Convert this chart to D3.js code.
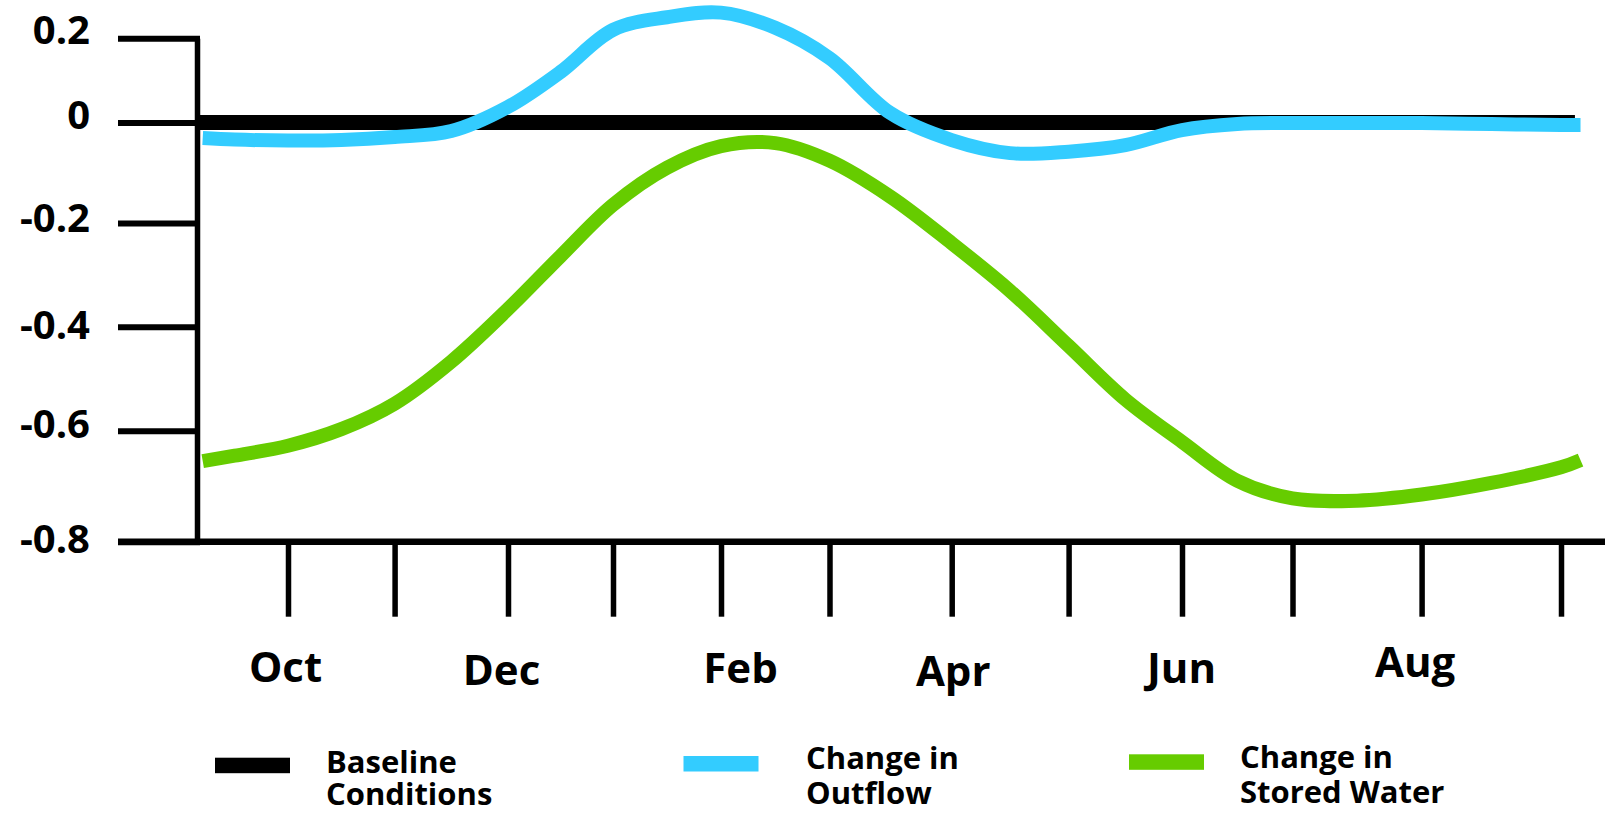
<!DOCTYPE html>
<html>
<head>
<meta charset="utf-8">
<script src="https://cdn.jsdelivr.net/npm/d3@7"></script>
<style>
  html, body { margin: 0; padding: 0; background: #fff; }
  svg { display: block; }
  text { font-family: "Open Sans", "DejaVu Sans", sans-serif; font-weight: 700; fill: #000; }
</style>
</head>
<body>
<svg id="chart" width="1605" height="813"></svg>
<script>
// ---- data ----
const months = ["Oct","Nov","Dec","Jan","Feb","Mar","Apr","May","Jun","Jul","Aug","Sep"];
const monthLabelShown = ["Oct","Dec","Feb","Apr","Jun","Aug"];
const yTickValues = [0.2, 0, -0.2, -0.4, -0.6, -0.8];
const yTickLabels = ["0.2", "0", "-0.2", "-0.4", "-0.6", "-0.8"];

// sample positions in month units (0 = Oct)
const monthIdx = [-0.8,-0.5,0,0.5,1,1.5,2,2.5,3,3.5,4,4.5,5,5.5,6,6.5,7,7.5,8,8.5,9,9.5,10,10.5,11,11.14];
const outflow  = [-0.031,-0.034,-0.036,-0.035,-0.029,-0.017,0.037,0.12,0.22,0.25,0.261,0.225,0.153,0.022,-0.035,-0.061,-0.058,-0.045,-0.015,-0.003,-0.001,-0.001,-0.001,-0.003,-0.005,-0.005];
const stored   = [-0.655,-0.645,-0.627,-0.597,-0.548,-0.467,-0.366,-0.264,-0.164,-0.09,-0.047,-0.041,-0.076,-0.148,-0.239,-0.331,-0.437,-0.54,-0.62,-0.69,-0.722,-0.726,-0.715,-0.694,-0.666,-0.653];
const baselineIdx = [-0.85, 11.1];
const baseline = [0, 0];

const legendNames = [["Baseline","Conditions"],["Change in","Outflow"],["Change in","Stored Water"]];
const seriesColors = ["#000000", "#33CCFF", "#66CC00"];

// ---- layout (hand-drawn offsets, not data) ----
const yLabelDy = [-3, -1.7, 0.3, 3.3, -1.7, 2.3];
const xLabelShift = {Oct: [-3, 1], Dec: [-7, 4], Feb: [19, 2], Apr: [1, 5], Jun: [-1, 2], Aug: [-7, -4]};

const svg = d3.select("#chart");
// hand-drawn axis: tick positions are irregular, so use polylinear scales
const x = d3.scaleLinear()
  .domain(d3.range(12))
  .range([288, 394.6, 508, 613, 721, 829.5, 951.7, 1068.6, 1182, 1292.5, 1421.6, 1561]);
const y = d3.scaleLinear()
  .domain([-0.8, -0.6, -0.4, -0.2, 0, 0.2])
  .range([541.7, 430.7, 326.7, 223, 122.5, 38.3]);

const axisX0 = 197;       // y-axis position
const axisY0 = y(-0.8);   // x-axis position

// x-axis line
svg.append("line")
  .attr("x1", 118).attr("x2", 1605)
  .attr("y1", axisY0).attr("y2", axisY0)
  .attr("stroke", "#000").attr("stroke-width", 6.5);

// y axis
const yAxis = d3.axisLeft(y)
  .tickValues(yTickValues)
  .tickFormat((d, i) => yTickLabels[i])
  .tickSize(79)
  .tickSizeOuter(0)
  .tickPadding(28);
const gy = svg.append("g").attr("transform", `translate(${axisX0},0)`).call(yAxis);
gy.select(".domain").attr("stroke", "#000").attr("stroke-width", 5.5);
gy.selectAll(".tick line").attr("stroke", "#000").attr("stroke-width", 6).attr("x2", -79).attr("x1", 3);
gy.selectAll(".tick text")
  .style("font-size", "40px")
  .style("font-family", '"Open Sans", sans-serif')
  .style("font-weight", 700)
  .attr("fill", "#000")
  .attr("dy", "0.2em")
  .attr("y", (d, i) => yLabelDy[i]);

// x axis ticks
const xAxis = d3.axisBottom(x)
  .tickValues(d3.range(12))
  .tickFormat(i => monthLabelShown.includes(months[i]) ? months[i] : "")
  .tickSize(75)
  .tickSizeOuter(0)
  .tickPadding(34);
const gx = svg.append("g").attr("transform", `translate(0,${axisY0})`).call(xAxis);
gx.select(".domain").remove();
gx.selectAll(".tick line").attr("stroke", "#000").attr("stroke-width", 5.5);
gx.selectAll(".tick text")
  .style("font-size", "42px")
  .style("font-family", '"Open Sans", sans-serif')
  .style("font-weight", 700)
  .attr("fill", "#000")
  .attr("x", i => (xLabelShift[months[i]] || [0, 0])[0])
  .attr("y", i => 109 + (xLabelShift[months[i]] || [0, 0])[1]);

// lines
const line = d3.line()
  .x(d => x(d[0]))
  .y(d => y(d[1]))
  .curve(d3.curveCatmullRom.alpha(0.5));
const lineStraight = d3.line().x(d => x(d[0])).y(d => y(d[1]));

svg.append("path")
  .datum(baselineIdx.map((m, i) => [m, baseline[i]]))
  .attr("d", lineStraight)
  .attr("fill", "none").attr("stroke", seriesColors[0]).attr("stroke-width", 15);

svg.append("path")
  .datum(monthIdx.map((m, i) => [m, stored[i]]))
  .attr("d", line)
  .attr("fill", "none").attr("stroke", seriesColors[2]).attr("stroke-width", 14)
  .attr("stroke-linecap", "butt").attr("stroke-linejoin", "round");

svg.append("path")
  .datum(monthIdx.map((m, i) => [m, outflow[i]]))
  .attr("d", line)
  .attr("fill", "none").attr("stroke", seriesColors[1]).attr("stroke-width", 14)
  .attr("stroke-linecap", "butt").attr("stroke-linejoin", "round");

// legend
const legendX = [215, 683.5, 1129];
const legendSwatchY = [757.7, 756, 754.3];
const legendTextX = [326, 806, 1240];
const legendBase = [773, 768.5, 768.3];
legendNames.forEach((names, i) => {
  svg.append("rect")
    .attr("x", legendX[i]).attr("y", legendSwatchY[i])
    .attr("width", 75).attr("height", 15.5)
    .attr("fill", seriesColors[i]);
  names.forEach((n, j) => {
    svg.append("text")
      .attr("x", legendTextX[i])
      .attr("y", j === 0 ? legendBase[i] : Math.min(legendBase[i] + 35, 805))
      .style("font-size", "31px")
      .text(n);
  });
});
</script>
</body>
</html>
